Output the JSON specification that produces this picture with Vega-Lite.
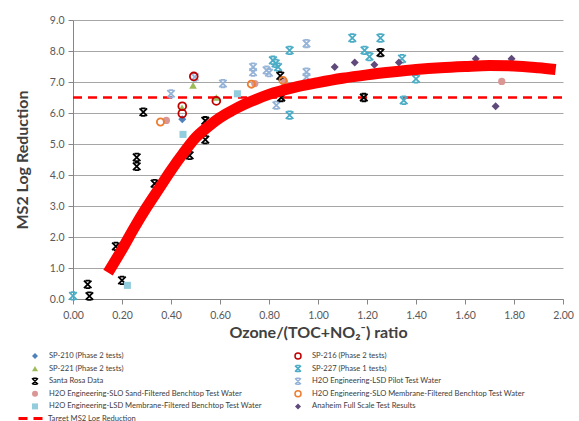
{
  "$schema": "https://vega.github.io/schema/vega-lite/v6.json",
  "width": 490,
  "height": 279,
  "autosize": "none",
  "padding": {"left": 73, "top": 20, "right": 16, "bottom": 122},
  "background": "white",
  "config": {
    "font": "Lato",
    "view": {"stroke": null},
    "legend": {"padding": 0}
  },
  "datasets": {
    "target": [
      {"x": 0, "y": 6.5, "label": "Target MS2 Log Reduction"},
      {"x": 2, "y": 6.5, "label": "Target MS2 Log Reduction"}
    ],
    "fit": [
      {"x": 0.143, "y": 0.85}, {"x": 0.2, "y": 1.6}, {"x": 0.25, "y": 2.3}, {"x": 0.3, "y": 2.95},
      {"x": 0.35, "y": 3.55}, {"x": 0.4, "y": 4.15}, {"x": 0.45, "y": 4.7}, {"x": 0.5, "y": 5.2},
      {"x": 0.55, "y": 5.55}, {"x": 0.6, "y": 5.85}, {"x": 0.65, "y": 6.08}, {"x": 0.7, "y": 6.28},
      {"x": 0.75, "y": 6.45}, {"x": 0.8, "y": 6.6}, {"x": 0.9, "y": 6.82}, {"x": 1.0, "y": 6.98},
      {"x": 1.1, "y": 7.12}, {"x": 1.2, "y": 7.23}, {"x": 1.3, "y": 7.32}, {"x": 1.4, "y": 7.4},
      {"x": 1.5, "y": 7.46}, {"x": 1.6, "y": 7.5}, {"x": 1.7, "y": 7.53}, {"x": 1.8, "y": 7.52},
      {"x": 1.9, "y": 7.46}, {"x": 1.97, "y": 7.4}
    ],
    "pts": [
      {"s": "H2O Engineering-LSD Pilot Test Water", "x": 0.40, "y": 6.62},
      {"s": "H2O Engineering-LSD Pilot Test Water", "x": 0.497, "y": 7.16},
      {"s": "H2O Engineering-LSD Pilot Test Water", "x": 0.612, "y": 6.95},
      {"s": "H2O Engineering-LSD Pilot Test Water", "x": 0.735, "y": 7.48},
      {"s": "H2O Engineering-LSD Pilot Test Water", "x": 0.735, "y": 7.32},
      {"s": "H2O Engineering-LSD Pilot Test Water", "x": 0.79, "y": 7.38},
      {"s": "H2O Engineering-LSD Pilot Test Water", "x": 0.80, "y": 7.3},
      {"s": "H2O Engineering-LSD Pilot Test Water", "x": 0.83, "y": 6.25},
      {"s": "H2O Engineering-LSD Pilot Test Water", "x": 0.953, "y": 8.24},
      {"s": "H2O Engineering-LSD Pilot Test Water", "x": 0.953, "y": 7.32},
      {"s": "H2O Engineering-LSD Pilot Test Water", "x": 0.953, "y": 7.16},
      {"s": "SP-227 (Phase 1 tests)", "x": 0.0, "y": 0.1},
      {"s": "SP-227 (Phase 1 tests)", "x": 0.816, "y": 7.7},
      {"s": "SP-227 (Phase 1 tests)", "x": 0.827, "y": 7.6},
      {"s": "SP-227 (Phase 1 tests)", "x": 0.837, "y": 7.48},
      {"s": "SP-227 (Phase 1 tests)", "x": 0.884, "y": 8.02},
      {"s": "SP-227 (Phase 1 tests)", "x": 0.884, "y": 5.93},
      {"s": "SP-227 (Phase 1 tests)", "x": 1.14, "y": 8.42},
      {"s": "SP-227 (Phase 1 tests)", "x": 1.19, "y": 8.02},
      {"s": "SP-227 (Phase 1 tests)", "x": 1.21, "y": 7.82},
      {"s": "SP-227 (Phase 1 tests)", "x": 1.255, "y": 8.42},
      {"s": "SP-227 (Phase 1 tests)", "x": 1.343, "y": 7.75},
      {"s": "SP-227 (Phase 1 tests)", "x": 1.35, "y": 6.41},
      {"s": "SP-227 (Phase 1 tests)", "x": 1.4, "y": 7.1},
      {"s": "Santa Rosa Data", "x": 0.06, "y": 0.47},
      {"s": "Santa Rosa Data", "x": 0.067, "y": 0.09},
      {"s": "Santa Rosa Data", "x": 0.175, "y": 1.7},
      {"s": "Santa Rosa Data", "x": 0.2, "y": 0.6},
      {"s": "Santa Rosa Data", "x": 0.26, "y": 4.57},
      {"s": "Santa Rosa Data", "x": 0.26, "y": 4.28},
      {"s": "Santa Rosa Data", "x": 0.287, "y": 6.03},
      {"s": "Santa Rosa Data", "x": 0.333, "y": 3.72},
      {"s": "Santa Rosa Data", "x": 0.476, "y": 4.63},
      {"s": "Santa Rosa Data", "x": 0.54, "y": 5.14},
      {"s": "Santa Rosa Data", "x": 0.54, "y": 5.75},
      {"s": "Santa Rosa Data", "x": 0.846, "y": 7.2},
      {"s": "Santa Rosa Data", "x": 0.85, "y": 6.5},
      {"s": "Santa Rosa Data", "x": 1.187, "y": 6.5},
      {"s": "Santa Rosa Data", "x": 1.255, "y": 7.95},
      {"s": "H2O Engineering-LSD Membrane-Filtered Benchtop Test Water", "x": 0.222, "y": 0.44},
      {"s": "H2O Engineering-LSD Membrane-Filtered Benchtop Test Water", "x": 0.449, "y": 5.31},
      {"s": "H2O Engineering-LSD Membrane-Filtered Benchtop Test Water", "x": 0.671, "y": 6.62},
      {"s": "H2O Engineering-SLO Sand-Filtered Benchtop Test Water", "x": 0.381, "y": 5.76},
      {"s": "H2O Engineering-SLO Sand-Filtered Benchtop Test Water", "x": 0.742, "y": 6.95},
      {"s": "H2O Engineering-SLO Sand-Filtered Benchtop Test Water", "x": 0.863, "y": 7.0},
      {"s": "H2O Engineering-SLO Sand-Filtered Benchtop Test Water", "x": 1.75, "y": 7.02},
      {"s": "H2O Engineering-SLO Membrane-Filtered Benchtop Test Water", "x": 0.357, "y": 5.71},
      {"s": "H2O Engineering-SLO Membrane-Filtered Benchtop Test Water", "x": 0.728, "y": 6.93},
      {"s": "H2O Engineering-SLO Membrane-Filtered Benchtop Test Water", "x": 0.857, "y": 7.05},
      {"s": "SP-210 (Phase 2 tests)", "x": 0.446, "y": 5.8},
      {"s": "SP-221 (Phase 2 tests)", "x": 0.445, "y": 6.17},
      {"s": "SP-221 (Phase 2 tests)", "x": 0.49, "y": 6.89},
      {"s": "SP-221 (Phase 2 tests)", "x": 0.585, "y": 6.5},
      {"s": "SP-216 (Phase 2 tests)", "x": 0.446, "y": 6.22},
      {"s": "SP-216 (Phase 2 tests)", "x": 0.446, "y": 5.98},
      {"s": "SP-216 (Phase 2 tests)", "x": 0.493, "y": 7.18},
      {"s": "SP-216 (Phase 2 tests)", "x": 0.585, "y": 6.39},
      {"s": "Anaheim Full Scale Test Results", "x": 1.068, "y": 7.48},
      {"s": "Anaheim Full Scale Test Results", "x": 1.15, "y": 7.63},
      {"s": "Anaheim Full Scale Test Results", "x": 1.23, "y": 7.56},
      {"s": "Anaheim Full Scale Test Results", "x": 1.33, "y": 7.63},
      {"s": "Anaheim Full Scale Test Results", "x": 1.644, "y": 7.75},
      {"s": "Anaheim Full Scale Test Results", "x": 1.725, "y": 6.22},
      {"s": "Anaheim Full Scale Test Results", "x": 1.79, "y": 7.75}
    ]
  },
  "encoding": {
    "x": {
      "field": "x", "type": "quantitative",
      "scale": {"domain": [0, 2], "nice": false, "zero": false},
      "axis": {
        "values": [0, 0.2, 0.4, 0.6, 0.8, 1.0, 1.2, 1.4, 1.6, 1.8, 2.0],
        "format": ".2f", "title": "Ozone/(TOC+NO₂⁻) ratio", "grid": false, "labelFlush": false,
        "tickSize": 5, "labelPadding": 6, "domainColor": "#868686", "tickColor": "#868686",
        "labelFontSize": 10.5, "labelColor": "#595959", "titleFontSize": 16, "titleFontWeight": "bold",
        "titleColor": "#404040", "titlePadding": 4
      }
    },
    "y": {
      "field": "y", "type": "quantitative",
      "scale": {"domain": [0, 9], "nice": false},
      "axis": {
        "values": [0, 1, 2, 3, 4, 5, 6, 7, 8, 9],
        "format": ".1f", "title": "MS2 Log Reduction", "grid": true, "gridColor": "#a6a6a6", "labelFlush": false,
        "tickSize": 5, "labelPadding": 4, "domainColor": "#868686", "tickColor": "#868686",
        "labelFontSize": 10.5, "labelColor": "#595959", "titleFontSize": 16, "titleFontWeight": "bold",
        "titleColor": "#404040", "titlePadding": 19
      }
    }
  },
  "layer": [
    {
      "data": {"name": "target"},
      "mark": {"type": "line", "color": "#ff0000", "strokeWidth": 2.5},
      "encoding": {
        "strokeDash": {
          "field": "label", "type": "nominal",
          "scale": {"range": [[9, 6]]},
          "legend": {
            "orient": "none", "legendX": -56, "legendY": 385, "title": null,
            "symbolType": "stroke", "symbolSize": 576, "symbolStrokeColor": "#ff0000",
            "symbolStrokeWidth": 3, "labelFontSize": 7.6, "labelColor": "#404040", "labelOffset": 4
          }
        }
      }
    },
    {
      "data": {"name": "pts"},
      "mark": {"type": "point", "strokeWidth": 1.8, "opacity": 1},
      "encoding": {
        "shape": {
          "field": "s", "type": "nominal",
          "scale": {
            "domain": ["SP-210 (Phase 2 tests)", "SP-221 (Phase 2 tests)", "Santa Rosa Data", "H2O Engineering-SLO Sand-Filtered Benchtop Test Water", "H2O Engineering-LSD Membrane-Filtered Benchtop Test Water", "SP-216 (Phase 2 tests)", "SP-227 (Phase 1 tests)", "H2O Engineering-LSD Pilot Test Water", "H2O Engineering-SLO Membrane-Filtered Benchtop Test Water", "Anaheim Full Scale Test Results"],
            "range": ["diamond", "triangle-up", "M-1,-1L1,1M1,-1L-1,1M-0.6,-1L0.6,-1M-0.6,1L0.6,1", "circle", "square", "circle", "M-1,-1L1,1M1,-1L-1,1M-0.6,-1L0.6,-1M-0.6,1L0.6,1", "M-1,-1L1,1M1,-1L-1,1M-0.6,-1L0.6,-1M-0.6,1L0.6,1", "circle", "diamond"]
          },
          "legend": {
            "orient": "none", "legendX": -42, "legendY": 332, "columns": 2, "title": null,
            "labelFontSize": 7.6, "labelColor": "#404040", "symbolSize": 36, "rowPadding": 0.6,
            "columnPadding": 30, "labelOffset": 10, "symbolStrokeWidth": 1.5, "labelLimit": 300
          }
        },
        "stroke": {
          "field": "s", "type": "nominal",
          "scale": {
            "domain": ["SP-210 (Phase 2 tests)", "SP-221 (Phase 2 tests)", "Santa Rosa Data", "H2O Engineering-SLO Sand-Filtered Benchtop Test Water", "H2O Engineering-LSD Membrane-Filtered Benchtop Test Water", "SP-216 (Phase 2 tests)", "SP-227 (Phase 1 tests)", "H2O Engineering-LSD Pilot Test Water", "H2O Engineering-SLO Membrane-Filtered Benchtop Test Water", "Anaheim Full Scale Test Results"],
            "range": ["transparent", "transparent", "#000000", "transparent", "transparent", "#c00000", "#4bacc6", "#95b3d7", "#ed7d31", "transparent"]
          },
          "legend": {
            "orient": "none", "legendX": -42, "legendY": 332, "columns": 2, "title": null,
            "labelFontSize": 7.6, "labelColor": "#404040", "symbolSize": 36, "rowPadding": 0.6,
            "columnPadding": 30, "labelOffset": 10, "symbolStrokeWidth": 1.5, "labelLimit": 300
          }
        },
        "fill": {
          "field": "s", "type": "nominal",
          "scale": {
            "domain": ["SP-210 (Phase 2 tests)", "SP-221 (Phase 2 tests)", "Santa Rosa Data", "H2O Engineering-SLO Sand-Filtered Benchtop Test Water", "H2O Engineering-LSD Membrane-Filtered Benchtop Test Water", "SP-216 (Phase 2 tests)", "SP-227 (Phase 1 tests)", "H2O Engineering-LSD Pilot Test Water", "H2O Engineering-SLO Membrane-Filtered Benchtop Test Water", "Anaheim Full Scale Test Results"],
            "range": ["#4f81bd", "#9bbb59", "transparent", "#d99694", "#93cddd", "transparent", "transparent", "transparent", "transparent", "#604a7b"]
          },
          "legend": {
            "orient": "none", "legendX": -42, "legendY": 332, "columns": 2, "title": null,
            "labelFontSize": 7.6, "labelColor": "#404040", "symbolSize": 36, "rowPadding": 0.6,
            "columnPadding": 30, "labelOffset": 10, "symbolStrokeWidth": 1.5, "labelLimit": 300
          }
        },
        "size": {
          "field": "s", "type": "nominal",
          "scale": {
            "domain": ["Anaheim Full Scale Test Results", "SP-210 (Phase 2 tests)", "SP-216 (Phase 2 tests)", "SP-221 (Phase 2 tests)", "SP-227 (Phase 1 tests)", "Santa Rosa Data", "H2O Engineering-LSD Pilot Test Water", "H2O Engineering-SLO Sand-Filtered Benchtop Test Water", "H2O Engineering-SLO Membrane-Filtered Benchtop Test Water", "H2O Engineering-LSD Membrane-Filtered Benchtop Test Water"],
            "range": [64, 50, 100, 64, 64, 64, 64, 81, 110, 64]
          },
          "legend": null
        }
      }
    },
    {
      "data": {"name": "fit"},
      "mark": {"type": "line", "color": "#ff0000", "strokeWidth": 11, "interpolate": "monotone", "strokeCap": "butt"},
      "encoding": {}
    }
  ]
}
